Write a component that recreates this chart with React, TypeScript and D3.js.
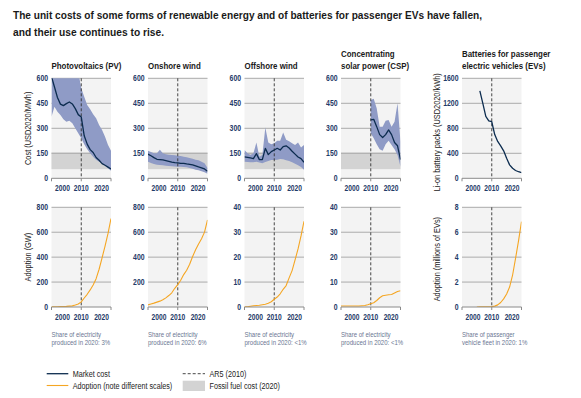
import React from "react";
import * as d3 from "d3";

// ---------- DATA ----------
const years = [2000, 2001, 2002, 2003, 2004, 2005, 2006, 2007, 2008, 2009, 2010, 2011, 2012, 2013, 2014, 2015, 2016, 2017, 2018, 2019, 2020];

const pvCost = [610, 548, 485, 445, 436, 448, 458, 446, 418, 382, 368, 255, 205, 172, 155, 125, 108, 88, 78, 67, 56];
const pvLow = [370, 430, 400, 380, 355, 340, 345, 330, 300, 270, 240, 205, 175, 150, 130, 112, 100, 90, 75, 60, 45];
const pvHigh = [650, 650, 650, 650, 650, 650, 650, 650, 650, 640, 540, 490, 440, 415, 385, 360, 320, 290, 250, 200, 165];

const onCost = [145, 135, 124, 114, 112, 110, 106, 102, 97, 94, 92, 90, 89, 86, 84, 80, 74, 68, 63, 56, 42];
const onLow = [100, 92, 86, 82, 80, 78, 76, 74, 72, 71, 70, 69, 68, 66, 62, 57, 52, 48, 43, 36, 28];
const onHigh = [165, 158, 150, 150, 172, 150, 145, 142, 140, 138, 136, 134, 130, 126, 122, 118, 112, 108, 100, 90, 62];

const offCost = [128, 126, 122, 118, 148, 112, 112, 180, 142, 160, 170, 180, 170, 190, 195, 182, 162, 145, 128, 118, 96];
const offLow = [100, 98, 96, 96, 100, 95, 90, 98, 104, 110, 110, 112, 116, 114, 108, 104, 96, 88, 78, 68, 52];
const offHigh = [170, 150, 140, 150, 215, 130, 140, 305, 215, 205, 210, 225, 225, 275, 232, 222, 210, 200, 215, 185, 200];

const cspYears = [2010, 2011, 2012, 2013, 2014, 2015, 2016, 2017, 2018, 2019, 2020];
const cspCost = [350, 354, 310, 262, 245, 262, 290, 262, 215, 195, 112];
const cspLow = [270, 240, 205, 175, 165, 205, 225, 200, 175, 140, 70];
const cspHigh = [470, 478, 420, 310, 310, 345, 350, 310, 340, 450, 220];

const evCostYears = [2006, 2007, 2008, 2009, 2010, 2011, 2012, 2013, 2014, 2015, 2016, 2017, 2018, 2019, 2020];
const evCost = [1400, 1200, 990, 920, 905, 700, 590, 520, 440, 320, 215, 160, 125, 105, 90];

const pvAdopt = [1, 1, 2, 3, 4, 5, 7, 9, 16, 24, 41, 72, 102, 137, 177, 227, 303, 395, 489, 590, 710];
const onAdopt = [17, 24, 31, 39, 47, 58, 73, 92, 114, 150, 180, 215, 260, 295, 343, 405, 459, 505, 547, 601, 699];
const offAdopt = [0.07, 0.1, 0.3, 0.5, 0.6, 0.7, 0.9, 1.1, 1.5, 2.1, 3.1, 4.0, 5.3, 7.1, 8.6, 11.7, 14.6, 18.9, 23.3, 28.5, 34.4];
const cspAdopt = [0.4, 0.4, 0.4, 0.4, 0.4, 0.4, 0.4, 0.5, 0.6, 0.9, 1.3, 1.7, 2.6, 3.7, 4.5, 4.7, 4.9, 5.0, 5.6, 6.2, 6.5];
const evAdoptYears = [2005, 2006, 2007, 2008, 2009, 2010, 2011, 2012, 2013, 2014, 2015, 2016, 2017, 2018, 2019, 2020];
const evAdopt = [0, 0.01, 0.01, 0.01, 0.02, 0.03, 0.07, 0.17, 0.36, 0.65, 1.05, 1.6, 2.55, 3.9, 5.3, 6.85];

const fossilRange = [55, 155];
const ar5Year = 2010;

const costTicks = [0, 150, 300, 450, 600];
const evCostTicks = [0, 400, 800, 1200, 1600];
const gwTicks = [0, 200, 400, 600, 800];
const smallGwTicks = [0, 10, 20, 30, 40];
const evAdoptTicks = [0, 2, 4, 6, 8];
const yearTicks = [2000, 2010, 2020];

const panelTitles = [
  ["Photovoltaics (PV)"],
  ["Onshore wind"],
  ["Offshore wind"],
  ["Concentrating", "solar power (CSP)"],
  ["Batteries for passenger", "electric vehicles (EVs)"],
];
const notes = [
  ["Share of electricity", "produced in 2020: 3%"],
  ["Share of electricity", "produced in 2020: 6%"],
  ["Share of electricity", "produced in 2020: <1%"],
  ["Share of electricity", "produced in 2020: <1%"],
  ["Share of passenger", "vehicle fleet in 2020: 1%"],
];

const titleLines = [
  "The unit costs of some forms of renewable energy and of batteries for passenger EVs have fallen,",
  "and their use continues to rise.",
];

// ---------- STYLE ----------
const FONT = "'Liberation Sans', Arial, sans-serif";
const C_BG = "#f3f3f3";
const C_GRID = "#ababab";
const C_FOSSIL = "#d3d3d3";
const C_BAND = "#8f9bc6";
const C_LINE = "#0c2c4f";
const C_ORANGE = "#f5a623";
const C_TICK = "#1f3b68";
const C_NOTE = "#6a7692";

const panelX = [51.5, 148, 244.5, 341, 462];
const PW = 59.5;
const topY0 = 78.3, topY1 = 178.3;
const botY0 = 207.3, botY1 = 307;

// condensed text helper (simulates a narrow typeface)
function NT(props: {
  x: number;
  y: number;
  sx?: number;
  size: number;
  bold?: boolean;
  anchor?: string;
  fill?: string;
  rotate?: number;
  dy?: string;
  children: React.ReactNode;
}) {
  const { x, y, sx = 0.82, size, bold, anchor = "start", fill = "#222", rotate = 0, dy, children } = props;
  return (
    <text
      transform={`translate(${x},${y})${rotate ? ` rotate(${rotate})` : ""} scale(${sx},1)`}
      textAnchor={anchor}
      fontFamily={FONT}
      fontWeight={bold ? "bold" : "normal"}
      fontSize={size}
      fill={fill}
      dy={dy}
    >
      {children}
    </text>
  );
}

type Series = { xs: number[]; ys: number[] };

function Plot(props: {
  id: string;
  x0: number;
  yTop: number;
  yBot: number;
  max: number;
  ticks: number[];
  fossil?: boolean;
  band?: { xs: number[]; lo: number[]; hi: number[] };
  line?: Series;
  lineColor: string;
  lineWidth: number;
}) {
  const { id, x0, yTop, yBot, max, ticks, fossil, band, line, lineColor, lineWidth } = props;
  const x = d3.scaleLinear().domain([2000, 2020]).range([x0, x0 + PW]);
  const y = d3.scaleLinear().domain([0, max]).range([yBot, yTop]);
  const area = d3
    .area<number>()
    .x((_, i) => x(band ? band.xs[i] : 0))
    .y0((_, i) => y(band ? band.lo[i] : 0))
    .y1((_, i) => y(band ? band.hi[i] : 0));
  const ln = d3
    .line<number>()
    .x((_, i) => x(line ? line.xs[i] : 0))
    .y((d) => y(d));
  return (
    <g>
      <defs>
        <clipPath id={id}>
          <rect x={x0} y={yTop} width={PW} height={yBot - yTop} />
        </clipPath>
      </defs>
      <rect x={x0} y={yTop} width={PW} height={yBot - yTop} fill={C_BG} />
      {fossil && (
        <rect
          x={x0}
          y={y(fossilRange[1])}
          width={PW}
          height={y(fossilRange[0]) - y(fossilRange[1])}
          fill={C_FOSSIL}
        />
      )}
      {ticks.slice(1).map((t) => (
        <line key={t} x1={x0} x2={x0 + PW} y1={y(t)} y2={y(t)} stroke={C_GRID} strokeWidth={1} />
      ))}
      <g clipPath={`url(#${id})`}>
        {band && <path d={area(band.lo) || ""} fill={C_BAND} />}
      </g>
      <line
        x1={x(ar5Year)}
        x2={x(ar5Year)}
        y1={yTop}
        y2={yBot}
        stroke="#333"
        strokeWidth={0.9}
        strokeDasharray="3,2"
      />
      <g clipPath={`url(#${id})`}>
        {line && <path d={ln(line.ys) || ""} fill="none" stroke={lineColor} strokeWidth={lineWidth} strokeLinejoin="round" />}
      </g>
      <line x1={x0} x2={x0 + PW} y1={yBot} y2={yBot} stroke="#8a8a8a" strokeWidth={1} />
      {yearTicks.map((t) => (
        <line key={t} x1={x(t)} x2={x(t)} y1={yBot} y2={yBot + 3} stroke="#8a8a8a" strokeWidth={1} />
      ))}
      {yearTicks.map((t, i) => (
        <NT
          key={t}
          x={i === 0 ? x(t) + 3.5 : i === 2 ? x(t) - 2 : x(t)}
          y={yBot + 12.5}
          anchor={i === 0 ? "start" : i === 2 ? "end" : "middle"}
          bold
          size={8.8}
          sx={0.76}
          fill={C_TICK}
        >
          {t}
        </NT>
      ))}
      {ticks.map((t) => (
        <NT key={t} x={x0 - 3.5} y={y(t)} dy="0.35em" anchor="end" bold size={8.8} sx={0.78} fill={C_TICK}>
          {t}
        </NT>
      ))}
    </g>
  );
}

export default function App() {
  const costBands = [
    { xs: years, lo: pvLow, hi: pvHigh },
    { xs: years, lo: onLow, hi: onHigh },
    { xs: years, lo: offLow, hi: offHigh },
    { xs: cspYears, lo: cspLow, hi: cspHigh },
  ];
  const costLines: Series[] = [
    { xs: years, ys: pvCost },
    { xs: years, ys: onCost },
    { xs: years, ys: offCost },
    { xs: cspYears, ys: cspCost },
    { xs: evCostYears, ys: evCost },
  ];
  const adoptLines: Series[] = [
    { xs: years, ys: pvAdopt },
    { xs: years, ys: onAdopt },
    { xs: years, ys: offAdopt },
    { xs: years, ys: cspAdopt },
    { xs: evAdoptYears, ys: evAdopt },
  ];
  const adoptMax = [800, 800, 40, 40, 8];
  const adoptTicks = [gwTicks, gwTicks, smallGwTicks, smallGwTicks, evAdoptTicks];
  const titleWidths = [469, 151];

  return (
    <svg width={581} height={398} style={{ position: "absolute", left: 0, top: 0, background: "#fff" }}>
      {titleLines.map((t, i) => (
        <text
          key={i}
          x={13}
          y={19.3 + i * 16.5}
          fontFamily={FONT}
          fontWeight="bold"
          fontSize={10.8}
          fill="#1a1a1a"
          textLength={titleWidths[i]}
          lengthAdjust="spacingAndGlyphs"
        >
          {t}
        </text>
      ))}
      {panelTitles.map((lines, p) =>
        lines.map((l, j) => (
          <NT key={p + "-" + j} x={panelX[p]} y={68.5 - (lines.length - 1 - j) * 12} bold size={9} sx={0.88} fill="#1a1a1a">
            {l}
          </NT>
        ))
      )}
      {panelX.map((x0, p) => (
        <Plot
          key={"c" + p}
          id={"clipc" + p}
          x0={x0}
          yTop={topY0}
          yBot={topY1}
          max={p === 4 ? 1600 : 600}
          ticks={p === 4 ? evCostTicks : costTicks}
          fossil={p < 4}
          band={p < 4 ? costBands[p] : undefined}
          line={costLines[p]}
          lineColor={C_LINE}
          lineWidth={1.3}
        />
      ))}
      {panelX.map((x0, p) => (
        <Plot
          key={"a" + p}
          id={"clipa" + p}
          x0={x0}
          yTop={botY0}
          yBot={botY1}
          max={adoptMax[p]}
          ticks={adoptTicks[p]}
          line={adoptLines[p]}
          lineColor={C_ORANGE}
          lineWidth={1.1}
        />
      ))}
      {notes.map((lines, p) =>
        lines.map((l, j) => (
          <NT key={p + "n" + j} x={panelX[p]} y={336.5 + j * 8} size={7.2} sx={0.84} fill={C_NOTE}>
            {l}
          </NT>
        ))
      )}
      {/* axis titles */}
      <NT x={30.8} y={(topY0 + topY1) / 2} rotate={-90} anchor="middle" size={9} sx={0.82} fill="#222">
        Cost (USD2020/MWh)
      </NT>
      <NT x={30.8} y={(botY0 + botY1) / 2} rotate={-90} anchor="middle" size={9} sx={0.82} fill="#222">
        Adoption (GW)
      </NT>
      <NT x={440.3} y={(topY0 + topY1) / 2 + 4} rotate={-90} anchor="middle" size={9} sx={0.82} fill="#222">
        Li-on battery packs (USD2020/kWh)
      </NT>
      <NT x={440.3} y={(botY0 + botY1) / 2 + 2} rotate={-90} anchor="middle" size={9} sx={0.82} fill="#222">
        Adoption (millions of EVs)
      </NT>
      {/* legend */}
      <line x1={46.7} x2={68.3} y1={373.7} y2={373.7} stroke={C_LINE} strokeWidth={1.3} />
      <NT x={72.7} y={376.8} size={8.8} sx={0.82} fill="#222">Market cost</NT>
      <line x1={46.7} x2={68.3} y1={385.5} y2={385.5} stroke={C_ORANGE} strokeWidth={1.1} />
      <NT x={72.7} y={388.6} size={8.8} sx={0.82} fill="#222">Adoption (note different scales)</NT>
      <line x1={182.7} x2={205} y1={373.7} y2={373.7} stroke="#333" strokeWidth={0.9} strokeDasharray="3,2" />
      <NT x={209.5} y={376.8} size={8.8} sx={0.82} fill="#222">AR5 (2010)</NT>
      <rect x={182.7} y={380.7} width={22.3} height={10.3} fill={C_FOSSIL} />
      <NT x={209.5} y={388.6} size={8.8} sx={0.82} fill="#222">Fossil fuel cost (2020)</NT>
    </svg>
  );
}
